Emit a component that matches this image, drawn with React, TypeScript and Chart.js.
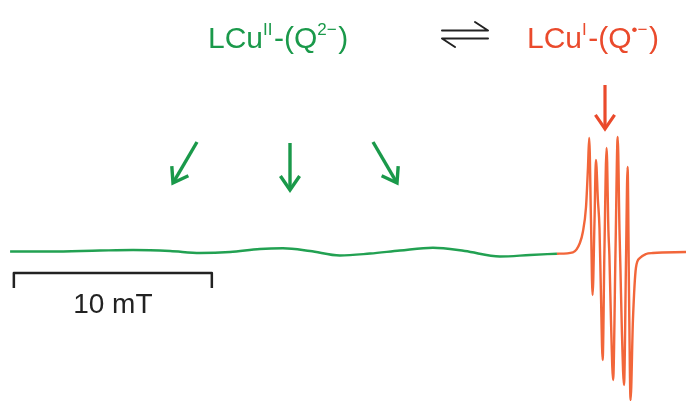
import React, { useEffect, useRef } from "react";
import { Chart, registerables } from "chart.js";

Chart.register(...registerables);

// Magnetic field (mT, relative) and EPR derivative intensity (a.u.)
const greenField = [0.51, 2.53, 5.05, 6.72, 8.59, 10.1, 11.62, 13.13, 14.29, 15.66, 17.17, 18.69, 20.2, 21.87, 23.48, 25.25, 26.77, 28.13];
const greenSignal = [0.5, 0.5, 1.5, 2, 1, -1, 0, 3, 3.7, 1, -3.5, -1.5, 1.5, 4.3, 1, -4.5, -3, -1.7];

const orangeField = [28.13, 28.94, 29.29, 29.44, 29.6, 29.7, 29.76, 29.85, 29.93, 30.03, 30.1, 30.2, 30.28, 30.35, 30.44, 30.53, 30.64, 30.73, 30.78, 30.86, 30.97, 31.09, 31.2, 31.29, 31.34, 31.41, 31.52, 31.62, 31.7, 31.77, 31.85, 31.97, 32.12, 32.32, 32.63, 32.98, 34.65];
const orangeSignal = [-1.7, -0.3, 9, 20, 45, 85, 114, 32, -43, 32, 92, 52, 24, -38, -108, 2, 104, 22, -3, -68, -128, 2, 115, 22, -18, -78, -133, -8, 85, -38, -148, -68, -16, -6, -2, -1, 0];

const scaleBarStart = 0.7; // mT
const scaleBarLength = 10; // mT
const scaleBarLabel = "10 mT";

const GREEN = "#1a994a";
const GREEN_LINE = "#22a152";
const RED = "#ea4a2c";
const ORANGE_LINE = "#f2663a";

function toXY(xs: number[], ys: number[]) {
  return xs.map((x, i) => ({ x, y: ys[i] }));
}

const annotations = {
  id: "annotations",
  beforeDraw(chart: any) {
    const ctx = chart.ctx;
    ctx.save();
    ctx.fillStyle = "#ffffff";
    ctx.fillRect(0, 0, chart.width, chart.height);
    ctx.restore();
  },
  afterDraw(chart: any) {
    const ctx: CanvasRenderingContext2D = chart.ctx;
    const xs = chart.scales.x;
    ctx.save();
    ctx.lineCap = "round";
    ctx.lineJoin = "round";

    // Scale bar
    const x0 = xs.getPixelForValue(scaleBarStart);
    const x1 = xs.getPixelForValue(scaleBarStart + scaleBarLength);
    ctx.strokeStyle = "#222";
    ctx.lineWidth = 2.5;
    ctx.lineCap = "butt";
    ctx.beginPath();
    ctx.moveTo(x0, 288);
    ctx.lineTo(x0, 273);
    ctx.lineTo(x1, 273);
    ctx.lineTo(x1, 288);
    ctx.stroke();
    ctx.fillStyle = "#222";
    ctx.font = "28px 'Liberation Sans', Arial, sans-serif";
    ctx.textAlign = "center";
    ctx.textBaseline = "alphabetic";
    ctx.fillText(scaleBarLabel, (x0 + x1) / 2, 313);

    // Titles with superscripts
    const drawRich = (parts: [string, boolean][], x: number, y: number, color: string) => {
      ctx.fillStyle = color;
      ctx.textAlign = "left";
      let cx = x;
      for (const [t, sup] of parts) {
        ctx.font = sup ? "17px 'Liberation Sans', Arial, sans-serif" : "30px 'Liberation Sans', Arial, sans-serif";
        ctx.fillText(t, cx, sup ? y - 13 : y);
        cx += ctx.measureText(t).width + (sup ? 1.5 : 0);
      }
    };
    drawRich([["LCu", false], ["II", true], ["-(Q", false], ["2\u2212", true], [")", false]], 208, 48, GREEN);
    drawRich([["LCu", false], ["I", true], ["-(Q", false], ["\u2022\u2212", true], [")", false]], 527, 48, RED);

    // Equilibrium harpoons
    ctx.strokeStyle = "#222";
    ctx.lineWidth = 2;
    ctx.lineCap = "round";
    ctx.beginPath();
    ctx.moveTo(442, 30.5);
    ctx.lineTo(488, 30.5);
    ctx.lineTo(475, 22);
    ctx.moveTo(488, 38.5);
    ctx.lineTo(442, 38.5);
    ctx.lineTo(455, 47);
    ctx.stroke();

    // Arrows
    const arrow = (tx: number, ty: number, fx: number, fy: number, color: string, w: number, head: number) => {
      const a = Math.atan2(ty - fy, tx - fx);
      ctx.strokeStyle = color;
      ctx.lineWidth = w;
      ctx.lineCap = "butt";
      ctx.lineJoin = "miter";
      ctx.beginPath();
      ctx.moveTo(fx, fy);
      ctx.lineTo(tx - Math.cos(a) * 1, ty - Math.sin(a) * 1);
      ctx.stroke();
      ctx.beginPath();
      ctx.moveTo(tx - head * Math.cos(a - 0.6), ty - head * Math.sin(a - 0.6));
      ctx.lineTo(tx, ty);
      ctx.lineTo(tx - head * Math.cos(a + 0.6), ty - head * Math.sin(a + 0.6));
      ctx.stroke();
    };
    arrow(173, 183, 197, 142, GREEN, 3.4, 17);
    arrow(290, 190, 290, 143, GREEN, 3.4, 17);
    arrow(397, 183, 373, 142, GREEN, 3.4, 17);
    arrow(605, 129, 605, 85, RED, 3.2, 17);

    ctx.restore();
  },
};

export default function App() {
  const ref = useRef<HTMLCanvasElement | null>(null);
  useEffect(() => {
    document.body.style.margin = "0";
    const canvas = ref.current!;
    const chart = new Chart(canvas, {
      type: "line",
      data: {
        datasets: [
          {
            data: toXY(greenField, greenSignal),
            borderColor: GREEN_LINE,
            borderWidth: 2.4,
            pointRadius: 0,
            cubicInterpolationMode: "monotone",
            clip: false,
          } as any,
          {
            data: toXY(orangeField, orangeSignal),
            borderColor: ORANGE_LINE,
            borderWidth: 2.4,
            pointRadius: 0,
            cubicInterpolationMode: "monotone",
            clip: false,
          } as any,
        ],
      },
      options: {
        responsive: false,
        animation: false,
        layout: { padding: 0 },
        plugins: { legend: { display: false }, tooltip: { enabled: false }, title: { display: false } },
        scales: {
          x: { type: "linear", min: 0, max: 34.65, display: false },
          y: { type: "linear", min: -149, max: 252, display: false },
        },
        events: [],
      },
      plugins: [annotations],
    });
    return () => chart.destroy();
  }, []);
  return <canvas ref={ref} width={686} height={401} style={{ display: "block" }} />;
}
